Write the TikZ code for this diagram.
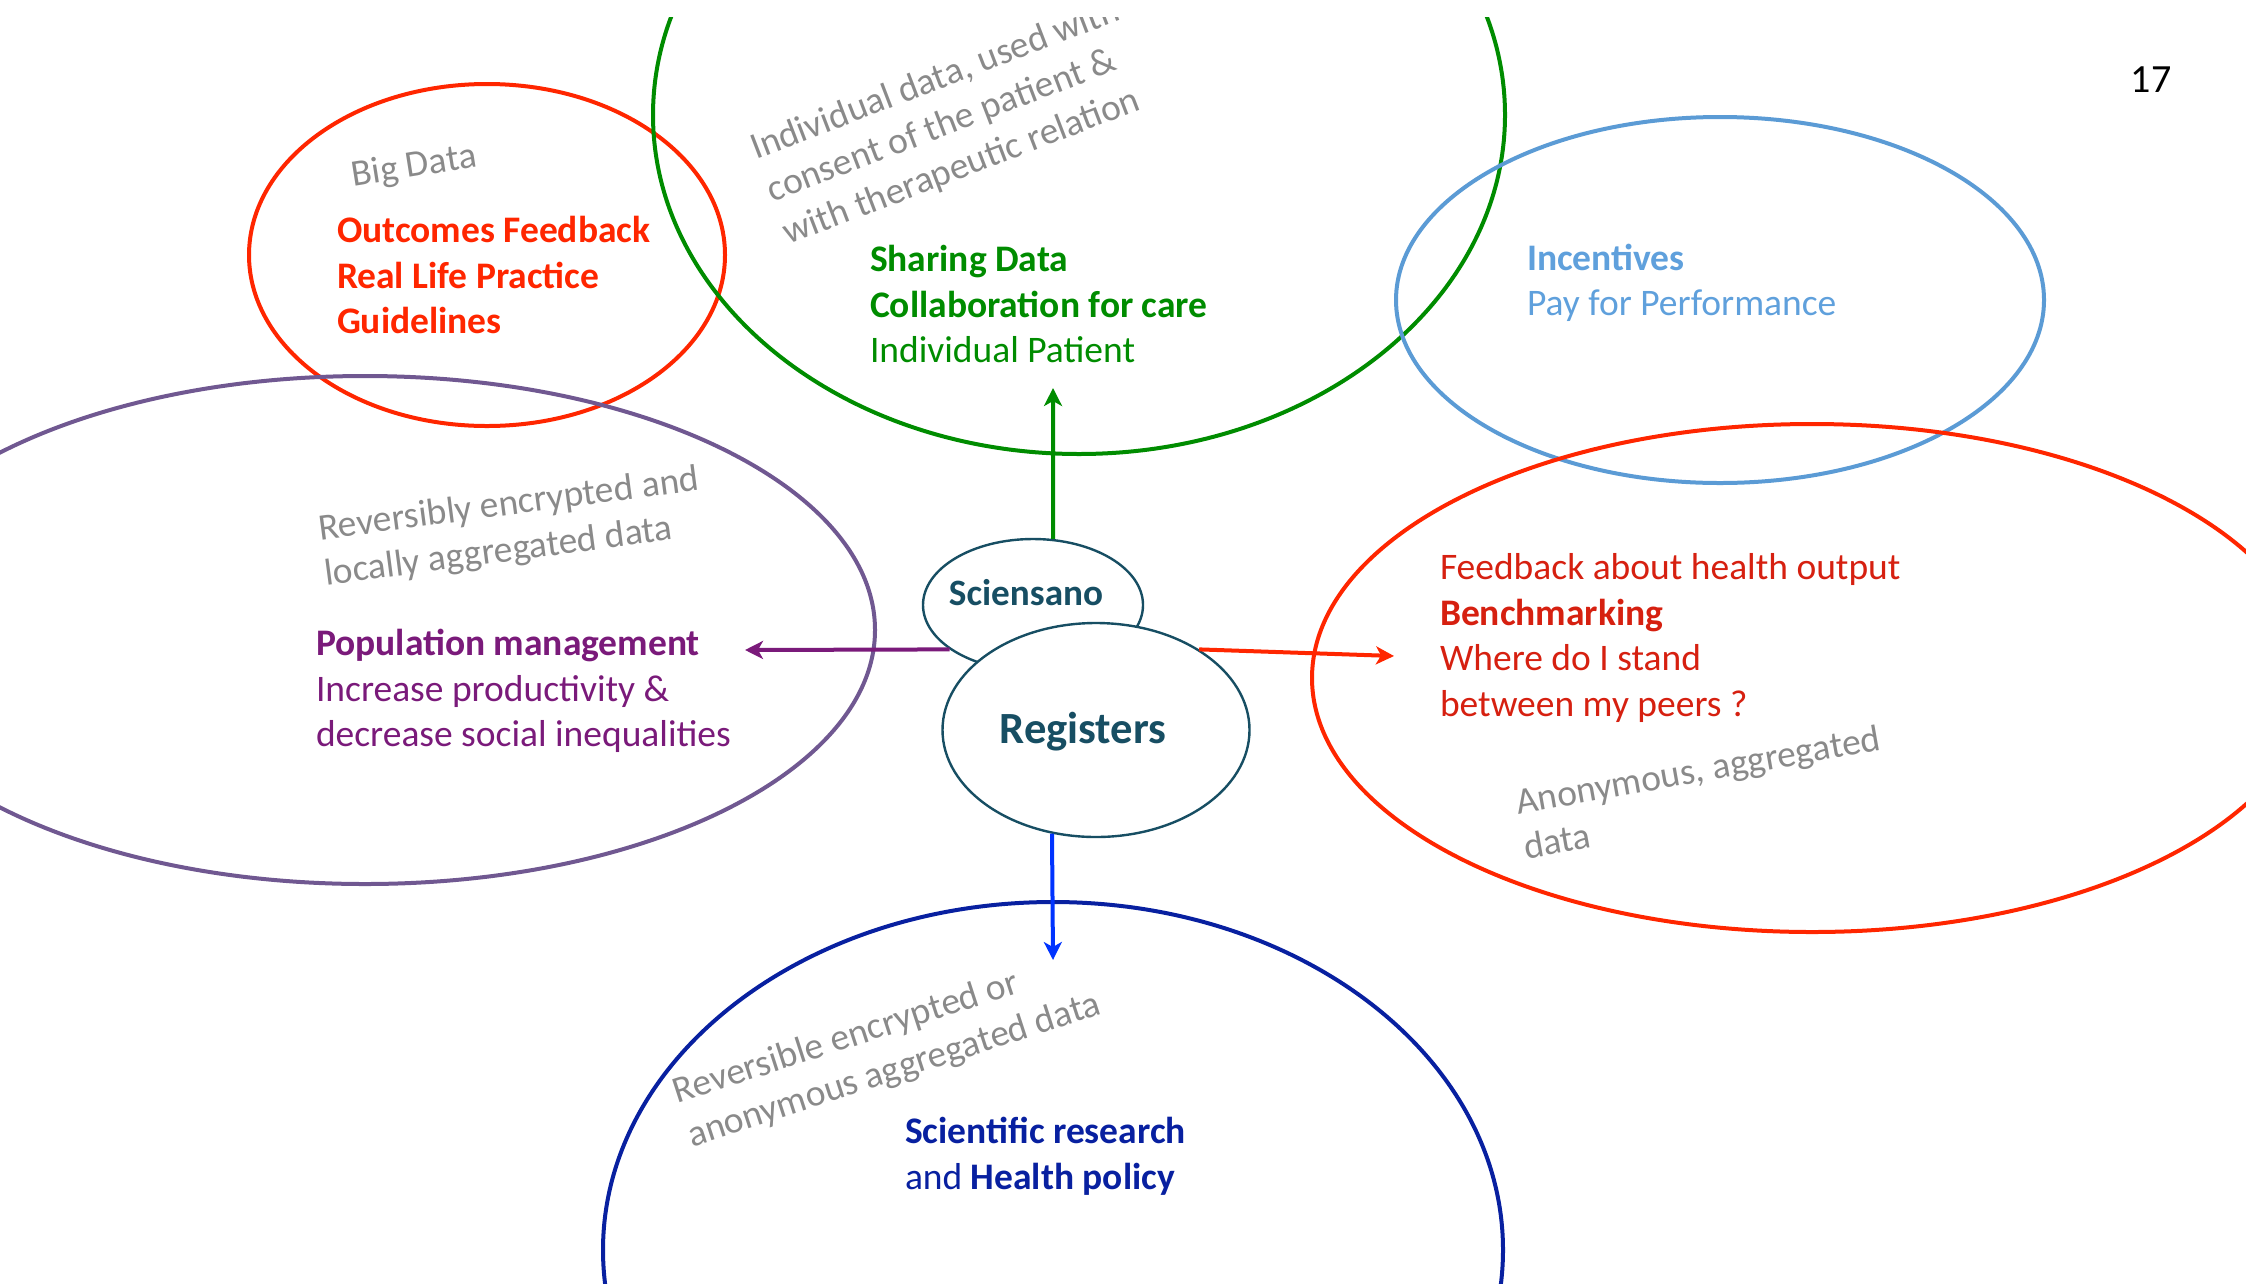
\documentclass[tikz,border=0pt]{standalone}
\usepackage{fontspec}
\setmainfont{Carlito}
\usetikzlibrary{shapes.geometric,arrows.meta}
\definecolor{bred}{RGB}{255,38,0}
\definecolor{dred}{RGB}{214,32,16}
\definecolor{grn}{RGB}{0,140,0}
\definecolor{lblue}{RGB}{91,155,213}
\definecolor{lbluetext}{RGB}{95,160,220}
\definecolor{purp}{RGB}{112,88,145}
\definecolor{purptext}{RGB}{122,26,122}
\definecolor{navy}{RGB}{8,32,160}
\definecolor{arrblue}{RGB}{0,51,255}
\definecolor{txtgray}{RGB}{138,138,138}
\definecolor{regteal}{RGB}{23,78,99}
\newcommand\myfs{\fontsize{18.75}{22.8}\selectfont}
\newcommand\hubtext[3]{\makebox[0pt]{\smash{\raisebox{#2}{#1}}\hspace*{#3}}}
\begin{document}
\begin{tikzpicture}[x=0.5pt,y=-0.5pt,
  txt/.style={font=\myfs, inner sep=0pt, outer sep=0pt, align=left, anchor=west},
  gtxt/.style={txt, text=txtgray},
  ring/.style={line width=2pt},
  conn/.style={line width=2pt, -{Stealth[length=9pt,width=9pt,inset=2.5pt]}},
  hub/.style={ellipse, draw=regteal, line width=1.2pt, fill=white, text=regteal, inner sep=0pt}
]
\useasboundingbox (0,0) rectangle (2246,1286);
\begin{scope}
\clip (0,17) rectangle (2246,1283);
% big ellipses
\draw[ring, bred] (487,255) ellipse [x radius=119pt, y radius=85.5pt];
\draw[ring, grn] (1079,115) ellipse [x radius=213pt, y radius=169.5pt];
\draw[ring, lblue] (1720,300) ellipse [x radius=162pt, y radius=91.5pt];
\draw[ring, purp] (365,630) ellipse [x radius=255pt, y radius=127pt];
\draw[ring, bred] (1812,678) ellipse [x radius=250pt, y radius=127pt];
\draw[ring, navy] (1053,1250) ellipse [x radius=225pt, y radius=174pt];
% texts
\node[gtxt, rotate=9] (bigdata) at (352,177) {Big Data};
\node[txt, text=bred, font=\myfs\bfseries] (outc) at (337,275) {Outcomes Feedback\\Real Life Practice\\Guidelines};
\node[gtxt, rotate=21] (indiv) at (769,193) {Individual data, used with\\consent of the patient \&\\with therapeutic relation};
\node[txt, text=grn] (share) at (870,304) {\textbf{Sharing Data}\\\textbf{Collaboration for care}\\Individual Patient};
\node[txt, text=lbluetext] (incent) at (1527,283) {\textbf{Incentives}\\Pay for Performance};
\node[gtxt, rotate=7.5] (revenc) at (322,553) {Reversibly encrypted and\\locally aggregated data};
\node[txt, text=purptext] (popm) at (316,691) {\textbf{Population management}\\Increase productivity \&\\decrease social inequalities};
\node[txt, text=dred] (feedb) at (1440,638) {Feedback about health output\\\textbf{Benchmarking}\\Where do I stand\\between my peers ?};
\node[gtxt, rotate=10] (anon) at (1520,824) {Anonymous, aggregated\\data};
\node[gtxt, rotate=18] (revor) at (682,1116) {Reversible encrypted or\\anonymous aggregated data};
\node[txt, text=navy] (scires) at (905,1156) {\textbf{Scientific research}\\and \textbf{Health policy}};
% hubs
\node[hub, minimum width=110pt, minimum height=66pt, font=\fontsize{18.6}{22}\selectfont\bfseries] (sci) at (1033,605) {\hubtext{Sciensano}{0pt}{7pt}};
\coordinate (gtip) at (1053,388);
\coordinate (ptip) at (745,650);
\coordinate (rtip) at (1394,656);
\coordinate (btip) at (1053,960);
\draw[conn, grn] (sci.73) -- (gtip);
\draw[conn, purptext] (sci.208) -- (ptip);
\node[hub, minimum width=153.5pt, minimum height=107pt, font=\fontsize{22.3}{26}\selectfont\bfseries] (reg) at (1096,730) {\hubtext{Registers}{-6.5pt}{13pt}};
\draw[conn, bred] (reg.38) -- (rtip);
\draw[conn, arrblue] (reg.247) -- (btip);
\end{scope}
\node[font=\fontsize{20}{24}\selectfont, inner sep=0pt] (pagenum) at (2151,80) {17};
\end{tikzpicture}
\end{document}
